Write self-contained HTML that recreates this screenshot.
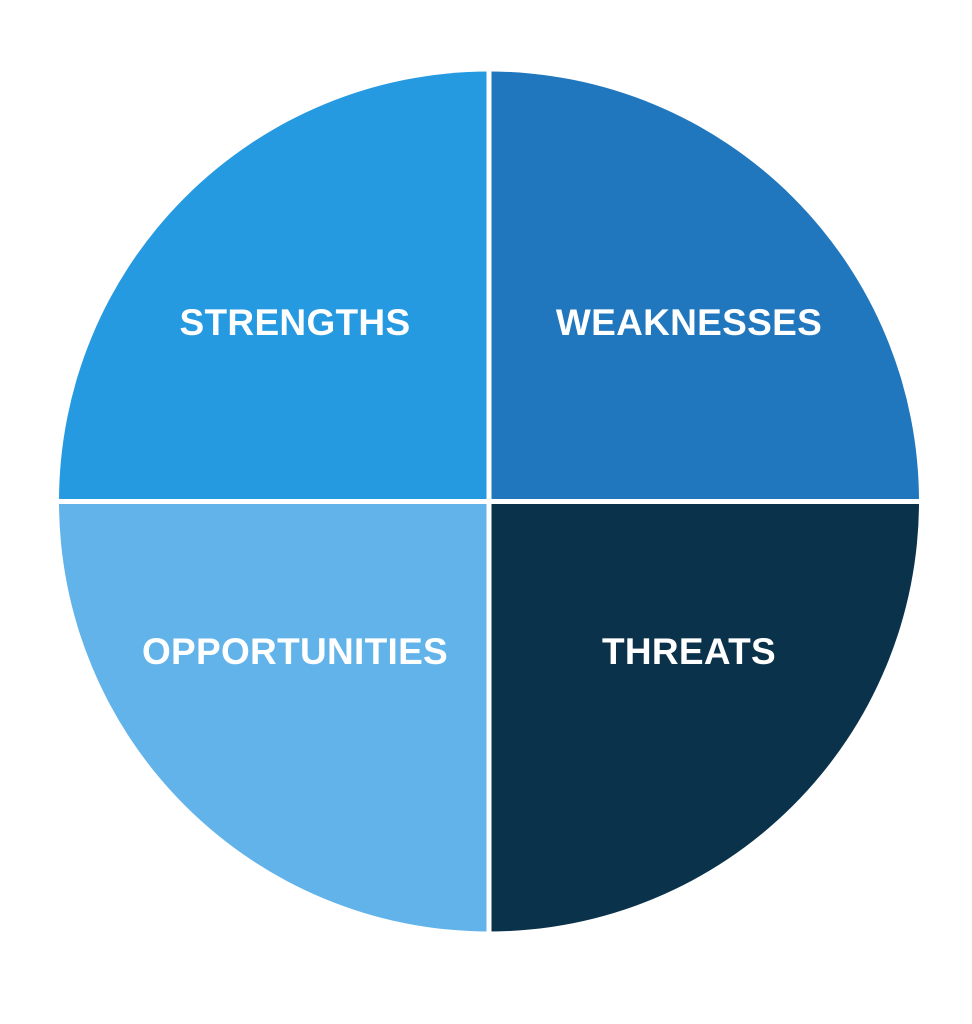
<!DOCTYPE html>
<html><head><style>
html,body{margin:0;padding:0;background:#fff;}
svg{display:block;}
text{font-family:"Liberation Sans",sans-serif;font-weight:bold;font-size:37px;fill:#fff;text-anchor:middle;letter-spacing:0.3px;}
</style></head><body>
<svg width="972" height="1024" viewBox="0 0 972 1024">
<path d="M489 501.5 L489 71.5 A430 430 0 0 0 59 501.5 Z" fill="#259AE1"/>
<path d="M489 501.5 L919 501.5 A430 430 0 0 0 489 71.5 Z" fill="#2077BE"/>
<path d="M489 501.5 L59 501.5 A430 430 0 0 0 489 931.5 Z" fill="#61B3EA"/>
<path d="M489 501.5 L489 931.5 A430 430 0 0 0 919 501.5 Z" fill="#0B324B"/>
<line x1="489" y1="60" x2="489" y2="945" stroke="#fff" stroke-width="5"/>
<line x1="50" y1="501.5" x2="930" y2="501.5" stroke="#fff" stroke-width="5"/>
<text x="295" y="335">STRENGTHS</text>
<text x="689" y="335">WEAKNESSES</text>
<text x="295" y="664">OPPORTUNITIES</text>
<text x="689" y="664">THREATS</text>
</svg>
</body></html>
